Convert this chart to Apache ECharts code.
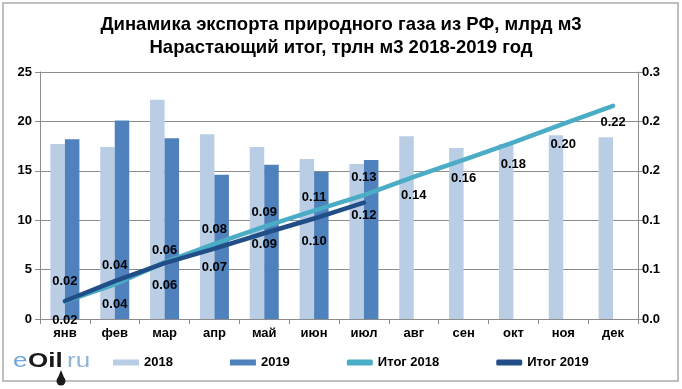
<!DOCTYPE html>
<html><head><meta charset="utf-8">
<script src="https://cdn.jsdelivr.net/npm/echarts@6/dist/echarts.min.js"></script>
<style>html,body{margin:0;padding:0;background:#fff}#c{width:682px;height:389px}</style>
</head><body><div id="c"></div>
<script>
const months = ['янв','фев','мар','апр','май','июн','июл','авг','сен','окт','ноя','дек'];
const exp2018 = [17.7, 17.4, 22.2, 18.7, 17.4, 16.2, 15.7, 18.5, 17.3, 17.7, 18.6, 18.4];
const exp2019 = [18.2, 20.1, 18.3, 14.6, 15.6, 14.9, 16.1];
const total2018 = [0.0177, 0.0351, 0.0573, 0.0760, 0.0934, 0.1096, 0.1253, 0.1438, 0.1611, 0.1788, 0.1974, 0.2158];
const total2019 = [0.0182, 0.0383, 0.0566, 0.0712, 0.0868, 0.1017, 0.1178];
const leftTicks = [0, 5, 10, 15, 20, 25];
const rightTickLabels = ['0.0', '0.1', '0.1', '0.2', '0.2', '0.3'];
const titleText = 'Динамика экспорта природного газа из РФ, млрд м3\nНарастающий итог, трлн м3 2018-2019 год';

// vertical offsets (px) of data-label centres from their points, as placed in the original
const labelShift2018 = [-20, -19, -12, -14, -14, -13, -18, 18, 19, 22, 20, 17];
const labelShift2019 = [19, 23, 22, 19, 11, 23, 13];

const FONT = 'Liberation Sans, Arial, sans-serif';
const chart = echarts.init(document.getElementById('c'), null, {renderer: 'canvas'});
const gray = '#8c8c8c';
const lbl = {fontFamily: FONT, fontWeight: 'bold', fontSize: 13, color: '#000'};
const HALF = 7;
const C2019L = '#214e86';

function withLabels(values, shifts) {
  return values.map((v, i) => ({
    value: v,
    label: {position: shifts[i] < 0 ? 'top' : 'bottom', distance: Math.max(0, Math.abs(shifts[i]) - HALF)}
  }));
}

chart.setOption({
  animation: false,
  backgroundColor: '#fff',
  title: {
    text: titleText, left: 'center', top: 8,
    textStyle: {fontFamily: FONT, fontWeight: 'bold', fontSize: 18.5, color: '#000', lineHeight: 23}
  },
  graphic: [
    {type: 'rect', shape: {x: 3, y: 3, width: 675, height: 378}, style: {fill: 'none', stroke: '#bfbfbf', lineWidth: 2}, silent: true},
    {type: 'text', x: 13, y: 351, scaleX: 1.3, style: {text: 'e', fontFamily: FONT, fontSize: 20, fill: '#6fa8dc', verticalAlign: 'top'}},
    {type: 'text', x: 28, y: 351, scaleX: 1.3, style: {text: 'Oil', fontFamily: FONT, fontWeight: 'bold', fontSize: 20, fill: '#1a1a1a', verticalAlign: 'top'}},
    {type: 'text', x: 67, y: 351, scaleX: 1.3, style: {text: 'ru', fontFamily: FONT, fontSize: 20, fill: '#8eb4d8', verticalAlign: 'top'}},
    {type: 'polygon', shape: {points: [[61, 370], [57, 380], [65, 380]]}, style: {fill: '#1a1a1a'}},
    {type: 'circle', shape: {cx: 61, cy: 381, r: 4.5}, style: {fill: '#1a1a1a'}}
  ],
  legend: {
    left: 113, top: 356, padding: 0, itemGap: 57, itemWidth: 26, itemHeight: 6,
    textStyle: {fontFamily: FONT, fontWeight: 'bold', fontSize: 13, color: '#000'},
    data: [
      {name: '2018', icon: 'rect'},
      {name: '2019', icon: 'rect'},
      {name: 'Итог 2018', icon: 'roundRect', itemStyle: {color: '#4bacc6', opacity: 1}},
      {name: 'Итог 2019', icon: 'roundRect', itemStyle: {color: C2019L, opacity: 1}}
    ]
  },
  grid: {left: 40, right: 44, top: 72, bottom: 70, containLabel: false},
  xAxis: {
    type: 'category', data: months, boundaryGap: true,
    axisLine: {lineStyle: {color: gray}},
    axisTick: {show: true, length: 5, lineStyle: {color: gray}},
    axisLabel: Object.assign({margin: 8}, lbl)
  },
  yAxis: [
    {
      type: 'value', min: 0, max: 25, interval: 5, position: 'left',
      axisLine: {show: true, lineStyle: {color: gray}},
      axisTick: {show: true, length: 5, lineStyle: {color: gray}},
      splitLine: {show: true, lineStyle: {color: gray, width: 1}},
      axisLabel: Object.assign({margin: 8, formatter: v => String(leftTicks[Math.round(v / 5)])}, lbl)
    },
    {
      type: 'value', min: 0, max: 0.25, interval: 0.05, position: 'right',
      axisLine: {show: true, lineStyle: {color: gray}},
      axisTick: {show: true, length: 5, lineStyle: {color: gray}},
      splitLine: {show: false},
      axisLabel: Object.assign({margin: 4, formatter: v => rightTickLabels[Math.round(v / 0.05)]}, lbl)
    }
  ],
  series: [
    {name: '2018', type: 'bar', data: exp2018, barWidth: 14.5, barGap: '0%', itemStyle: {color: '#b9cde5'}, z: 2},
    {name: '2019', type: 'bar', data: exp2019, barWidth: 14.5, barGap: '0%', itemStyle: {color: '#4f81bd'}, z: 2},
    {name: 'Итог 2018', type: 'line', yAxisIndex: 1, data: withLabels(total2018, labelShift2018),
      showSymbol: true, symbol: 'circle', symbolSize: 1, labelLayout: {hideOverlap: false},
      lineStyle: {color: '#4bacc6', width: 4.5, cap: 'round'}, itemStyle: {color: 'rgba(0,0,0,0)'}, z: 4,
      label: Object.assign({show: true, position: 'top', formatter: p => p.value.toFixed(2)}, lbl)},
    {name: 'Итог 2019', type: 'line', yAxisIndex: 1, data: withLabels(total2019, labelShift2019),
      showSymbol: true, symbol: 'circle', symbolSize: 1, labelLayout: {hideOverlap: false},
      lineStyle: {color: C2019L, width: 4.5, cap: 'round'}, itemStyle: {color: 'rgba(0,0,0,0)'}, z: 5,
      label: Object.assign({show: true, position: 'bottom', formatter: p => p.value.toFixed(2)}, lbl)}
  ]
});
</script></body></html>
